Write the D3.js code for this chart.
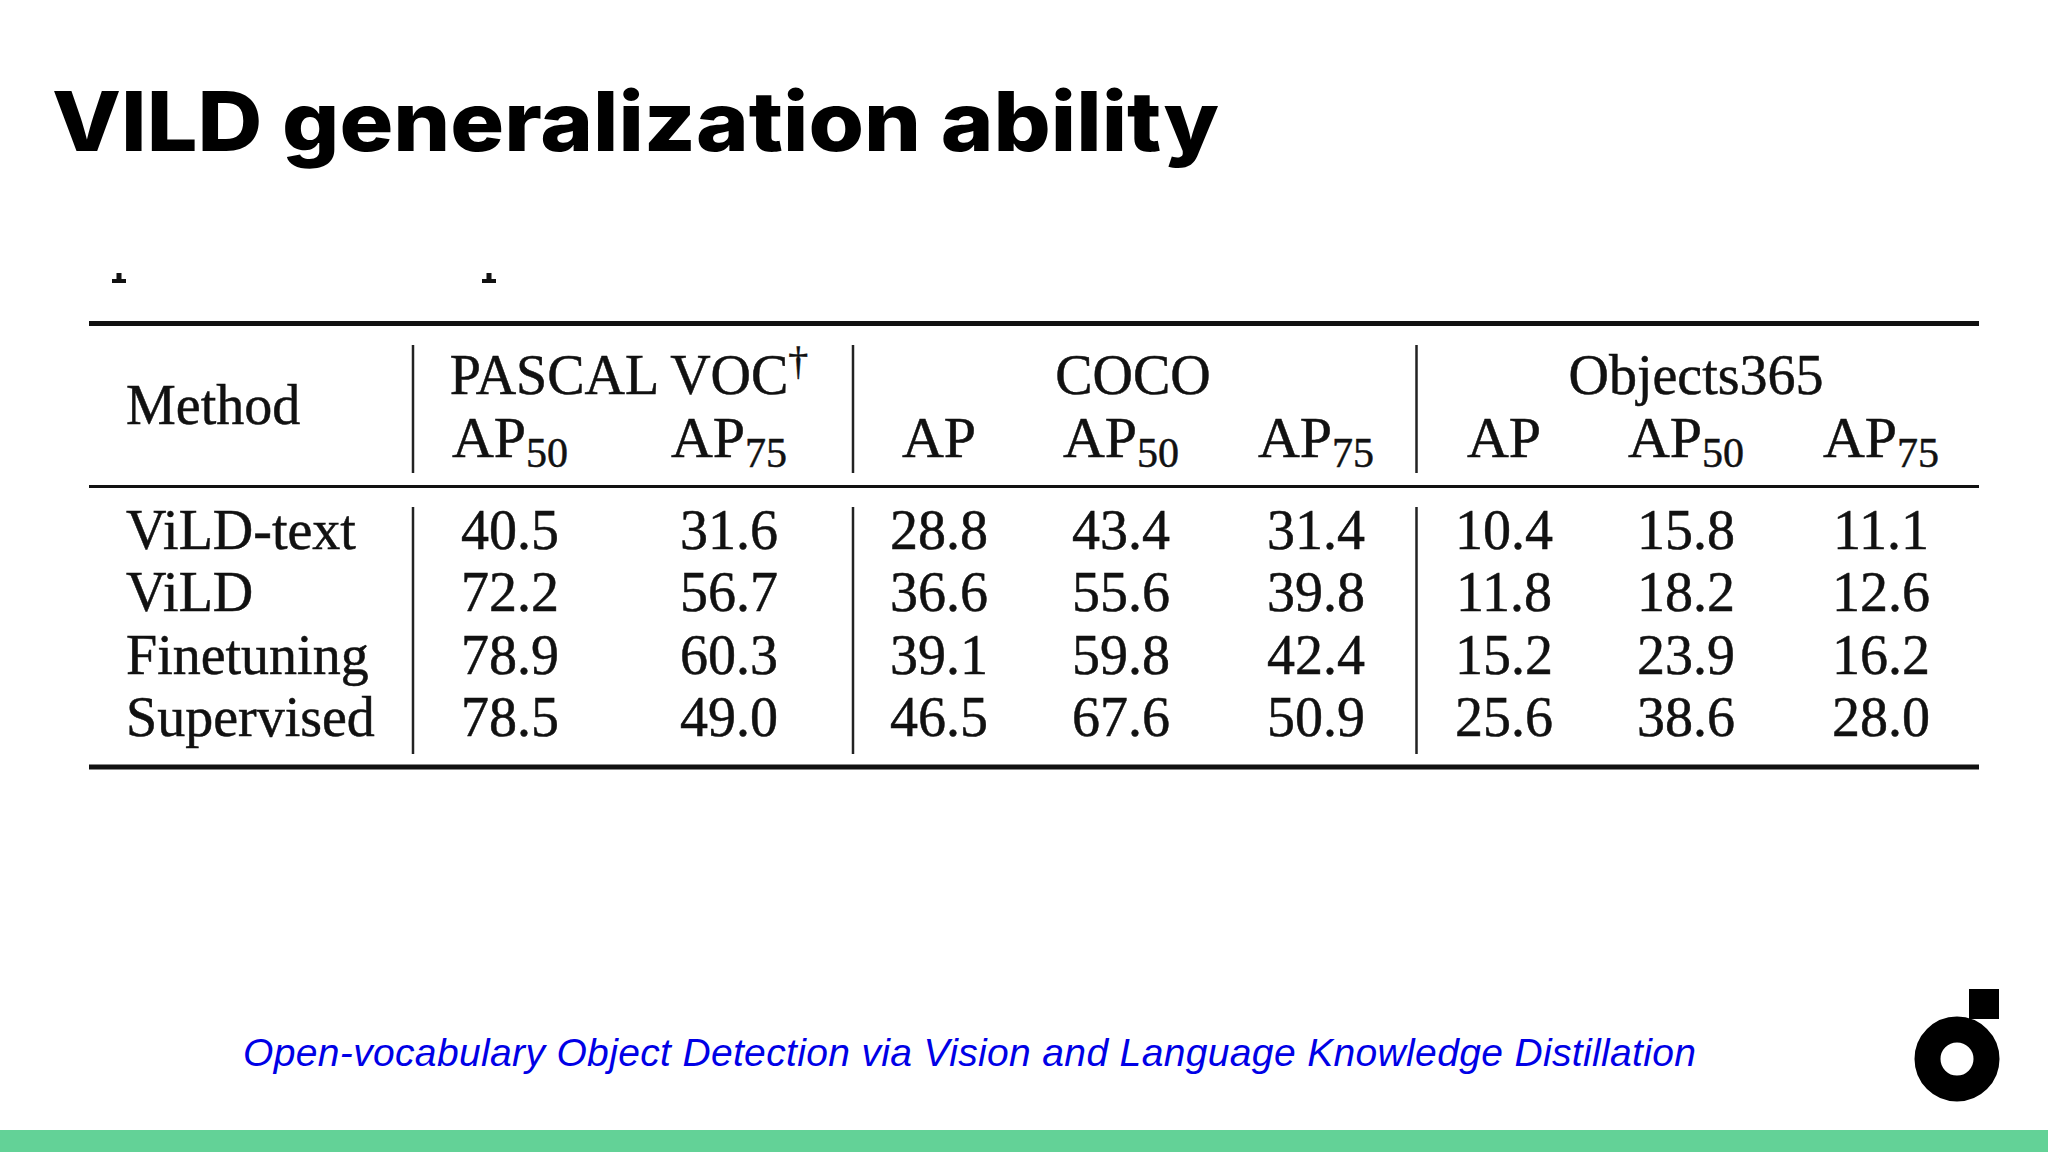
<!DOCTYPE html>
<html>
<head>
<title>ViLD generalization ability</title>
<script src="https://cdn.jsdelivr.net/npm/d3@7"></script>
<style>
body { margin: 0; background: #fff; }
svg { display: block; }
.cell { font-family: "Liberation Serif", serif; font-size: 56px; fill: #111; stroke: #111; stroke-width: 0.5px; }
</style>
</head>
<body>
<div id="chart"></div>
<script>
var titleText = "VILD generalization ability";
var footerText = "Open-vocabulary Object Detection via Vision and Language Knowledge Distillation";

var methods = ["ViLD-text", "ViLD", "Finetuning", "Supervised"];
var columns = ["voc50", "voc75", "coco", "coco50", "coco75", "obj", "obj50", "obj75"];
var columnBase = ["AP", "AP", "AP", "AP", "AP", "AP", "AP", "AP"];
var columnSub = ["50", "75", "", "50", "75", "", "50", "75"];
var groups = ["PASCAL VOC", "COCO", "Objects365"];

var vildText = ["40.5", "31.6", "28.8", "43.4", "31.4", "10.4", "15.8", "11.1"];
var vild = ["72.2", "56.7", "36.6", "55.6", "39.8", "11.8", "18.2", "12.6"];
var finetuning = ["78.9", "60.3", "39.1", "59.8", "42.4", "15.2", "23.9", "16.2"];
var supervised = ["78.5", "49.0", "46.5", "67.6", "50.9", "25.6", "38.6", "28.0"];
var rows = [vildText, vild, finetuning, supervised];

var width = 2048, height = 1152;

var svg = d3.select("#chart").append("svg")
	.attr("width", width)
	.attr("height", height);

var x = d3.scaleOrdinal().domain(columns).range([510, 729, 939, 1121, 1316, 1504, 1686, 1881]);
var y = d3.scalePoint().domain(methods).range([548.5, 736]);
var groupX = d3.scaleOrdinal().domain(groups).range([629, 1133, 1696]);

//////////////////////////////////////////////////////////////////////////////////////////////
// title, footer, logo

svg.append("text")
	.attr("x", 52)
	.attr("y", 151)
	.attr("textLength", 1167)
	.attr("lengthAdjust", "spacingAndGlyphs")
	.style("font-family", "Inter")
	.style("font-weight", 800)
	.style("font-size", "82px")
	.style("fill", "#000")
	.text(titleText);

svg.append("text")
	.attr("x", 243)
	.attr("y", 1066)
	.attr("textLength", 1453)
	.style("font-family", "Liberation Sans")
	.style("font-style", "italic")
	.style("font-size", "39px")
	.style("fill", "#0000e6")
	.text(footerText);

svg.append("rect").attr("x", 0).attr("y", 1130).attr("width", width).attr("height", 22).attr("fill", "#63d297");

svg.append("rect").attr("x", 1969).attr("y", 989).attr("width", 30).attr("height", 30).attr("fill", "#000");
svg.append("circle").attr("cx", 1957).attr("cy", 1059).attr("r", 29.5)
	.attr("fill", "none").attr("stroke", "#000").attr("stroke-width", 26);

//////////////////////////////////////////////////////////////////////////////////////////////
// leftovers of the cropped line above the table

[119, 489].forEach(function(px) {
	svg.append("rect").attr("x", px - 2.5).attr("y", 273).attr("width", 5).attr("height", 9).attr("fill", "#111");
	svg.append("rect").attr("x", px - 7).attr("y", 279).attr("width", 14).attr("height", 4).attr("fill", "#111");
});

//////////////////////////////////////////////////////////////////////////////////////////////
// rules

var rules = [[323.5, 5], [486.5, 3], [767, 5]];
svg.selectAll(".rule").data(rules).enter().append("line")
	.attr("class", "rule")
	.attr("x1", 89).attr("x2", 1979)
	.attr("y1", function(d) { return d[0]; })
	.attr("y2", function(d) { return d[0]; })
	.attr("stroke", "#111")
	.attr("stroke-width", function(d) { return d[1]; });

[413, 853, 1416.5].forEach(function(px) {
	[[345, 473], [507, 754]].forEach(function(span) {
		svg.append("line")
			.attr("x1", px).attr("x2", px)
			.attr("y1", span[0]).attr("y2", span[1])
			.attr("stroke", "#222")
			.attr("stroke-width", 2.5);
	});
});

//////////////////////////////////////////////////////////////////////////////////////////////
// header

svg.append("text").attr("class", "cell").attr("x", 126).attr("y", 423.5).text("Method");

var groupLabels = svg.selectAll(".group").data(groups).enter().append("text")
	.attr("class", "cell group")
	.attr("text-anchor", "middle")
	.attr("x", function(d) { return groupX(d); })
	.attr("y", 393.5)
	.text(function(d) { return d; });

groupLabels.filter(function(d) { return d == "PASCAL VOC"; })
	.append("tspan")
	.attr("dy", -20)
	.style("font-size", "40px")
	.text("†");

var heads = svg.selectAll(".head").data(columns).enter().append("text")
	.attr("class", "cell head")
	.attr("text-anchor", "middle")
	.attr("x", function(d) { return x(d); })
	.attr("y", 457);

heads.append("tspan").style("font-size", "58px").text(function(d, i) { return columnBase[i]; });
heads.append("tspan")
	.attr("dy", 10)
	.style("font-size", "42px")
	.text(function(d, i) { return columnSub[i]; });

//////////////////////////////////////////////////////////////////////////////////////////////
// body

svg.selectAll(".method").data(methods).enter().append("text")
	.attr("class", "cell method")
	.attr("x", 126)
	.attr("y", function(d) { return y(d); })
	.text(function(d) { return d; });

methods.forEach(function(method, r) {
	svg.selectAll(".val" + r).data(rows[r]).enter().append("text")
		.attr("class", "cell val" + r)
		.attr("text-anchor", "middle")
		.attr("x", function(d, i) { return x(columns[i]); })
		.attr("y", y(method))
		.text(function(d) { return d; });
});
</script>
</body>
</html>
